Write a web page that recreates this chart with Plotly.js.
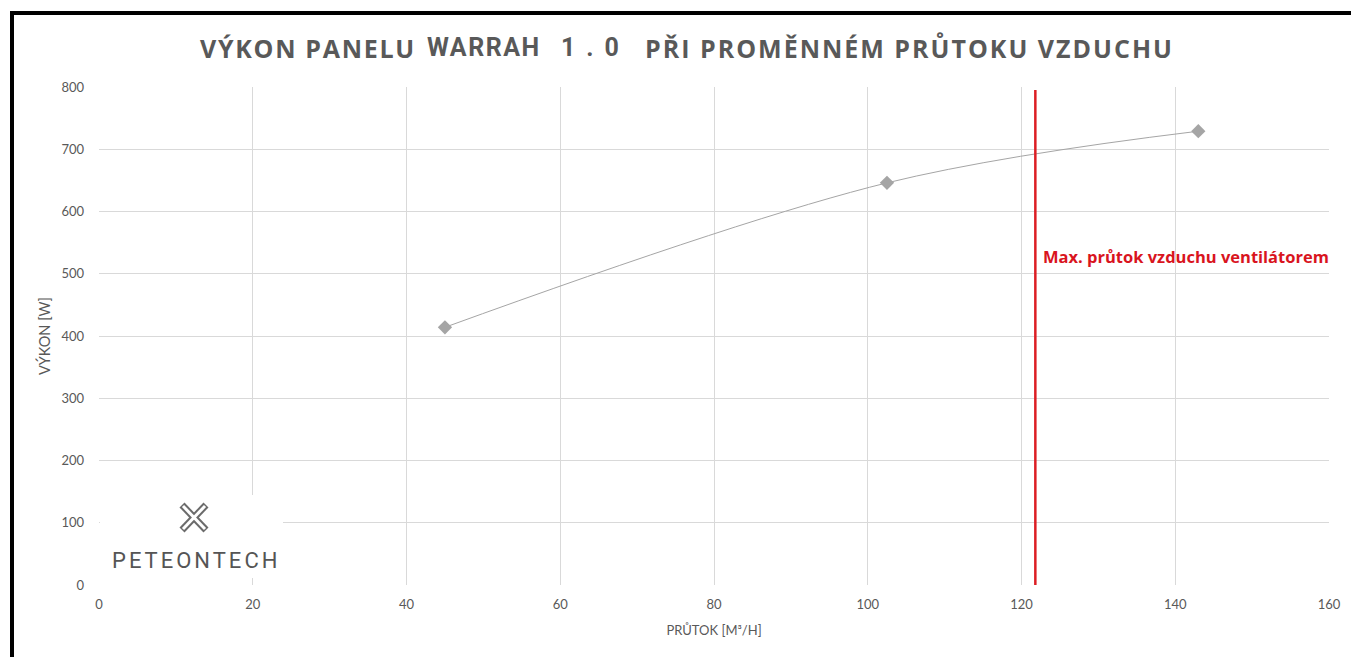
<!DOCTYPE html>
<html>
<head>
<meta charset="utf-8">
<script src="https://cdn.plot.ly/plotly-3.0.1.min.js"></script>
<style>
  html, body { margin:0; padding:0; background:#fff; }
  #chart { width:1351px; height:657px; }
  #frame { position:absolute; left:10px; top:11px; width:1341px; height:646px;
           border-left:4px solid #000; border-top:4px solid #000; box-sizing:border-box; pointer-events:none; }
</style>
</head>
<body>
<div id="chart"></div>
<div id="frame"></div>
<script>
// Data
const flow = [45, 102.5, 143];          // PRŮTOK [m3/h]
const power = [414, 646, 729];          // VÝKON [W]
const maxFlowX = [121.8, 121.8];        // max. průtok vzduchu ventilátorem
const maxFlowY = [0, 795];
const xTicks = [0, 20, 40, 60, 80, 100, 120, 140, 160];
const yTicks = [0, 100, 200, 300, 400, 500, 600, 700, 800];

const L = 99, R = 1329, T = 87, B = 585;
const px = x => (x - L) / (R - L);
const py = y => (B - y) / (B - T);

const traces = [
  {
    x: flow, y: power, type: 'scatter', mode: 'lines+markers',
    line: { color: '#a5a5a5', width: 1, shape: 'spline', smoothing: 1 },
    marker: { symbol: 'diamond', size: 11, color: '#a5a5a5' },
    hoverinfo: 'x+y'
  },
  {
    x: maxFlowX, y: maxFlowY, type: 'scatter', mode: 'lines',
    line: { color: '#dc1e24', width: 2.5 }, hoverinfo: 'skip'
  }
];

const gray = '#595959';
const titleFont = { family: '"Open Sans", "Noto Sans", sans-serif', size: 25, color: gray };
const narrowFont = { family: 'Roboto, "Liberation Sans Narrow", sans-serif', size: 25, color: gray };
const layout = {
  width: 1351, height: 657,
  margin: { l: L, r: 1351 - R, t: T, b: 657 - B },
  paper_bgcolor: '#fff', plot_bgcolor: '#fff',
  showlegend: false,
  font: { family: 'Lato, "Liberation Sans", sans-serif', color: gray },
  xaxis: {
    range: [0, 160], tickvals: xTicks, ticktext: xTicks.map(String),
    showgrid: true, gridcolor: '#d9d9d9', gridwidth: 1,
    zeroline: false, showline: false, ticks: '',
    tickfont: { size: 13, color: gray }, ticklabelstandoff: 10,
    title: { text: 'PRŮTOK [M³/H]', font: { size: 13, color: gray }, standoff: 14 },
    fixedrange: true
  },
  yaxis: {
    range: [0, 800], tickvals: yTicks, ticktext: yTicks.map(String),
    showgrid: true, gridcolor: '#d9d9d9', gridwidth: 1,
    zeroline: false, showline: false, ticks: '',
    tickfont: { size: 13, color: gray }, ticklabelstandoff: 14,
    title: { text: 'VÝKON [W]', font: { size: 14.5, color: gray }, standoff: 7 },
    fixedrange: true
  },
  shapes: [
    { type: 'rect', xref: 'paper', yref: 'paper', x0: px(100), x1: px(283), y0: py(578), y1: py(495),
      fillcolor: '#fff', line: { width: 0 }, layer: 'above' },
    // logo icon: two crossed tools
    { type: 'line', xref: 'paper', yref: 'paper', x0: px(182), y0: py(505), x1: px(206), y1: py(530),
      line: { color: '#6b6b6b', width: 7 }, layer: 'above' },
    { type: 'line', xref: 'paper', yref: 'paper', x0: px(206), y0: py(505), x1: px(182), y1: py(530),
      line: { color: '#6b6b6b', width: 7 }, layer: 'above' },
    { type: 'line', xref: 'paper', yref: 'paper', x0: px(183), y0: py(506), x1: px(205), y1: py(529),
      line: { color: '#fff', width: 3 }, layer: 'above' },
    { type: 'line', xref: 'paper', yref: 'paper', x0: px(205), y0: py(506), x1: px(183), y1: py(529),
      line: { color: '#fff', width: 3 }, layer: 'above' }
  ],
  annotations: [
    { xref: 'paper', yref: 'paper', x: px(418), y: py(48), xanchor: 'right', yanchor: 'middle',
      showarrow: false, text: '<b><span style="letter-spacing:1.7px">VÝKON PANELU</span></b>', font: titleFont },
    { xref: 'paper', yref: 'paper', x: px(484), y: py(48), xanchor: 'center', yanchor: 'middle',
      showarrow: false, text: '<b><span style="letter-spacing:1.5px">WARRAH</span></b>', font: narrowFont },
    { xref: 'paper', yref: 'paper', x: px(595), y: py(48), xanchor: 'center', yanchor: 'middle',
      showarrow: false, text: '<b><span style="letter-spacing:11px">1.0</span></b>', font: narrowFont },
    { xref: 'paper', yref: 'paper', x: px(643), y: py(48), xanchor: 'left', yanchor: 'middle',
      showarrow: false, text: '<b><span style="letter-spacing:2px">PŘI PROMĚNNÉM PRŮTOKU VZDUCHU</span></b>', font: titleFont },
    { xref: 'paper', yref: 'paper', x: px(1041), y: py(256), xanchor: 'left', yanchor: 'middle',
      showarrow: false, text: '<b>Max. průtok vzduchu ventilátorem</b>',
      font: { family: '"Open Sans", "Noto Sans", sans-serif', size: 16.5, color: '#d9141e' } },
    { xref: 'paper', yref: 'paper', x: px(196), y: py(560), xanchor: 'center', yanchor: 'middle',
      showarrow: false,
      text: '<span style="letter-spacing:3px">PETEONTECH</span>',
      font: { family: 'Roboto, sans-serif', size: 22, color: '#555' } }
  ]
};

Plotly.newPlot('chart', traces, layout, { displayModeBar: false, staticPlot: true });
</script>
</body>
</html>
